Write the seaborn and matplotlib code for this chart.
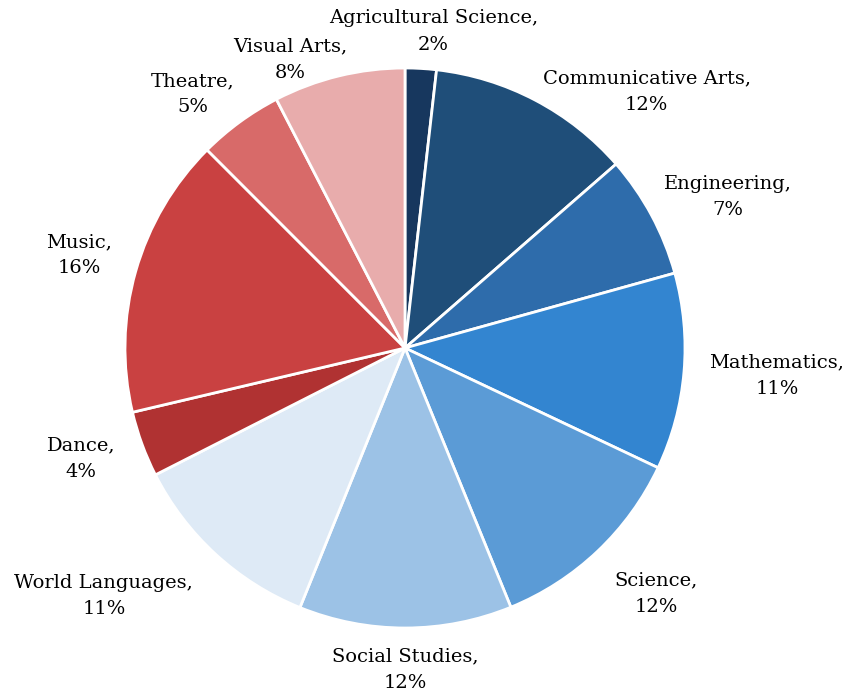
import matplotlib
matplotlib.use("Agg")
import matplotlib.pyplot as plt
import seaborn as sns
import numpy as np

# share of courses by subject (percent)
subjects = ["Agricultural Science", "Communicative Arts", "Engineering", "Mathematics",
            "Science", "Social Studies", "World Languages", "Dance", "Music",
            "Theatre", "Visual Arts"]
shares = [1.8, 11.8, 7.1, 11.35, 11.8, 12.3, 11.4, 3.8, 16.2, 4.9, 7.6]
colors = ["#17375e", "#1f4e79", "#2e6cab", "#3385d0", "#5b9bd6", "#9cc2e6",
          "#deeaf6", "#b03232", "#c94141", "#d86a69", "#e8acac"]

# label placement tweaks (distance from centre, angle shift in degrees)
label_dist = [1.135, 1.259, 1.274, 1.332, 1.254, 1.148, 1.393, 1.222, 1.211, 1.181, 1.108]
label_shift = [-1.9, -15.6, -3.2, 0.7, 2.2, 0, -8.0, -1.25, 0, 3.7, 8.1]

sns.set_theme(style="white")
plt.rcParams['font.family'] = ['DejaVu Serif']

fig = plt.figure(figsize=(8.48, 6.96), dpi=100)
ax = fig.add_axes([125 / 848, 68 / 696, 560 / 848, 560 / 696])

wedges, _ = ax.pie(shares, colors=colors, startangle=90, counterclock=False,
                   radius=1, wedgeprops=dict(edgecolor="white", linewidth=2))

total = sum(shares)
for w, name, val, d, s in zip(wedges, subjects, shares, label_dist, label_shift):
    ang = np.deg2rad((w.theta1 + w.theta2) / 2 + s)
    ax.text(d * np.cos(ang), d * np.sin(ang), f"{name},\n{round(val / total * 100)}%",
            ha="center", va="center", fontsize=14, color="black",
            linespacing=1.6)

ax.set_xlim(-1, 1)
ax.set_ylim(-1, 1)
ax.set_aspect("equal")
ax.axis("off")

fig.savefig("out.png", dpi=100)
